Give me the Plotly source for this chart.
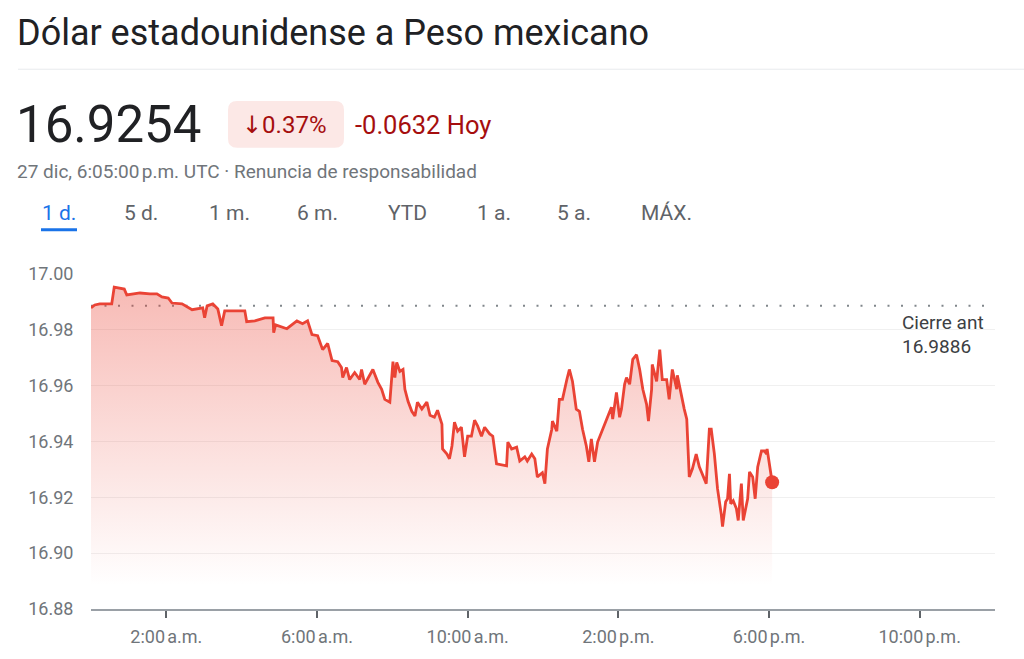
import plotly.graph_objects as go

# ---------------- data ----------------
DAY = "2023-12-27"
times = ["00:00","00:06","00:14","00:33","00:37","00:43","00:53","00:57","01:07","01:18",
         "01:34","01:45","01:53","02:03","02:09","02:25","02:41","02:58","03:01","03:05",
         "03:14","03:22","03:28","03:33","03:49","04:05","04:08","04:21","04:37","04:50",
         "04:51","04:54","05:12","05:28","05:37","05:45","05:52","06:01","06:09","06:17",
         "06:24","06:33","06:39","06:41","06:47","06:52","07:00","07:08","07:11","07:16",
         "07:29","07:37","07:43","07:48","07:56","08:01","08:04","08:07","08:12","08:17",
         "08:20","08:25","08:31","08:36","08:40","08:47","08:55","09:00","09:07","09:12",
         "09:19","09:20","09:27","09:31","09:35","09:39","09:44","09:50","09:55","10:00",
         "10:06","10:11","10:16","10:22","10:27","10:35","10:40","10:46","11:02","11:04",
         "11:10","11:18","11:23","11:31","11:35","11:42","11:47","11:51","11:59","12:03",
         "12:07","12:14","12:15","12:22","12:26","12:31","12:38","12:42","12:47","12:53",
         "12:58","13:03","13:09","13:13","13:17","13:22","13:27","13:35","13:41","13:49",
         "13:51","13:57","14:02","14:05","14:10","14:13","14:18","14:23","14:29","14:34",
         "14:39","14:45","14:48","14:53","14:54","15:01","15:06","15:10","15:17","15:21",
         "15:26","15:33","15:34","15:41","15:45","15:49","15:53","15:58","16:04","16:09",
         "16:14","16:20","16:25","16:28","16:33","16:38","16:44","16:46","16:51","16:54",
         "16:57","16:59","17:03","17:08","17:11","17:16","17:19","17:26","17:29","17:34",
         "17:38","17:42","17:48","17:53","17:56","17:57","18:05"]
prices = [16.9879,16.9889,16.9893,16.9893,16.9953,16.9950,16.9946,16.9925,16.9929,16.9932,
          16.9929,16.9929,16.9918,16.9914,16.9896,16.9893,16.9872,16.9879,16.9843,16.9886,
          16.9893,16.9875,16.9815,16.9868,16.9868,16.9868,16.9829,16.9832,16.9843,16.9843,
          16.9790,16.9818,16.9804,16.9832,16.9822,16.9832,16.9783,16.9779,16.9729,16.9751,
          16.9690,16.9686,16.9665,16.9629,16.9665,16.9622,16.9647,16.9622,16.9658,16.9605,
          16.9658,16.9612,16.9587,16.9551,16.9541,16.9686,16.9629,16.9683,16.9651,16.9658,
          16.9587,16.9544,16.9508,16.9491,16.9541,16.9516,16.9541,16.9494,16.9487,16.9512,
          16.9462,16.9373,16.9355,16.9338,16.9384,16.9469,16.9437,16.9451,16.9345,16.9419,
          16.9419,16.9476,16.9455,16.9419,16.9451,16.9427,16.9419,16.9320,16.9313,16.9398,
          16.9373,16.9380,16.9330,16.9345,16.9330,16.9355,16.9338,16.9273,16.9288,16.9249,
          16.9373,16.9444,16.9473,16.9437,16.9551,16.9551,16.9622,16.9658,16.9615,16.9516,
          16.9508,16.9444,16.9384,16.9327,16.9409,16.9327,16.9398,16.9444,16.9480,16.9523,
          16.9480,16.9576,16.9487,16.9516,16.9605,16.9629,16.9605,16.9694,16.9711,16.9658,
          16.9587,16.9533,16.9473,16.9587,16.9676,16.9615,16.9729,16.9622,16.9622,16.9551,
          16.9658,16.9587,16.9637,16.9551,16.9516,16.9480,16.9273,16.9302,16.9355,16.9309,
          16.9284,16.9249,16.9444,16.9444,16.9355,16.9231,16.9138,16.9095,16.9184,16.9195,
          16.9284,16.9177,16.9188,16.9160,16.9117,16.9249,16.9117,16.9195,16.9291,16.9273,
          16.9195,16.9309,16.9366,16.9366,16.9355,16.9373,16.9254]

prev_close = 16.9886
last_price = "16.9254"
pct_change = "0.37%"
abs_change = "-0.0632"
timestamp_text = "27 dic, 6:05:00\u202fp.m. UTC · Renuncia de responsabilidad"
title_text = "Dólar estadounidense a Peso mexicano"
tabs = ["1 d.", "5 d.", "1 m.", "6 m.", "YTD", "1 a.", "5 a.", "MÁX."]
y_ticks = [16.88, 16.90, 16.92, 16.94, 16.96, 16.98, 17.00]
x_tick_times = ["02:00", "06:00", "10:00", "14:00", "18:00", "22:00"]
x_tick_labels = ["2:00\u202fa.m.", "6:00\u202fa.m.", "10:00\u202fa.m.",
                 "2:00\u202fp.m.", "6:00\u202fp.m.", "10:00\u202fp.m."]
fill_floor = 16.889

# ---------------- layout helpers ----------------
W, H = 1024, 659
L, R, T, B = 91, 995, 274, 611
def px(x):
    return (x - L) / (R - L)
def py(y):
    return (B - y) / (B - T)

xs = [f"{DAY} {t}" for t in times]
RED = "#ea4335"
FONT = "Roboto"

fig = go.Figure()
fig.add_trace(go.Scatter(x=[xs[0], xs[-1]], y=[fill_floor, fill_floor], mode="lines",
                         line=dict(width=0), hoverinfo="skip", showlegend=False))
fig.add_trace(go.Scatter(
    x=xs, y=prices, mode="lines", line=dict(color=RED, width=2.8),
    fill="tonexty",
    fillgradient=dict(type="vertical", start=fill_floor, stop=17.0,
                      colorscale=[[0, "rgba(234,67,53,0.0)"], [1, "rgba(234,67,53,0.38)"]]),
    showlegend=False))
fig.add_trace(go.Scatter(x=[xs[-1]], y=[prices[-1]], mode="markers",
                         marker=dict(color=RED, size=14), showlegend=False))

shapes = []
# previous close dotted line
shapes.append(dict(type="line", xref="paper", yref="y", x0=0, x1=1, y0=prev_close, y1=prev_close,
                   line=dict(color="#80868b", width=2, dash="2px,11.5px"), layer="below"))
# separator under title
shapes.append(dict(type="line", xref="paper", yref="paper", x0=px(18), x1=px(1024), y0=py(68), y1=py(68),
                   line=dict(color="#e8eaed", width=1)))
# badge
bx0, bx1, by0, by1, r = 228, 344, 100, 147, 9
def P(x, y):
    return f"{px(x)},{py(y)}"
path = (f"M {P(bx0+r, by0)} L {P(bx1-r, by0)} Q {P(bx1, by0)} {P(bx1, by0+r)} "
        f"L {P(bx1, by1-r)} Q {P(bx1, by1)} {P(bx1-r, by1)} L {P(bx0+r, by1)} "
        f"Q {P(bx0, by1)} {P(bx0, by1-r)} L {P(bx0, by0+r)} Q {P(bx0, by0)} {P(bx0+r, by0)} Z")
shapes.append(dict(type="path", xref="paper", yref="paper", path=path,
                   fillcolor="#fce8e6", line=dict(width=0)))
# active tab underline
shapes.append(dict(type="rect", xref="paper", yref="paper", x0=px(41), x1=px(77), y0=py(231), y1=py(228),
                   fillcolor="#1a73e8", line=dict(width=0)))

ann = []
def text(x, y, s, size, color, anchor="left", family=FONT):
    ann.append(dict(xref="paper", yref="paper", x=px(x), y=py(y), text=s, showarrow=False,
                    xanchor=anchor, yanchor="middle", font=dict(family=family, size=size, color=color)))

text(15, 32, title_text, 36, "#202124")
text(14, 124, last_price, 51, "#202124")
text(240, 124, "<span style=\"font-family:'DejaVu Sans'\">\u2193</span>" + pct_change, 24, "#a50e0e")
text(353, 124, abs_change + " Hoy", 25.5, "#a50e0e")
text(15, 171, timestamp_text, 19, "#70757a")
tab_x = [42, 124, 209, 297, 388, 477, 557, 641]
for i, (tx, tb) in enumerate(zip(tab_x, tabs)):
    text(tx - 2, 213, tb, 21, "#1a73e8" if i == 0 else "#5f6368")
text(900, 323, "Cierre ant", 19, "#3c4043")
text(900, 347, f"{prev_close:.4f}", 19, "#3c4043")

fig.update_layout(
    width=W, height=H, margin=dict(l=L, r=W - R, t=T, b=H - B),
    paper_bgcolor="white", plot_bgcolor="white",
    shapes=shapes, annotations=ann, showlegend=False,
    xaxis=dict(type="date", range=[f"{DAY} 00:00", "2023-12-28 00:00"],
               tickvals=[f"{DAY} {t}" for t in x_tick_times], ticktext=x_tick_labels,
               showgrid=False, zeroline=False, showline=True, linecolor="#9aa0a6", linewidth=1.5,
               ticks="outside", ticklen=7, tickcolor="#5f6368", tickwidth=2,
               tickfont=dict(family=FONT, size=18, color="#70757a"), ticklabelstandoff=4),
    yaxis=dict(range=[16.88, 17.0], tickvals=y_ticks, ticktext=[f"{v:.2f}" for v in y_ticks],
               showgrid=True, gridcolor="#f0f0f0", gridwidth=1, zeroline=False, showline=False,
               ticks="outside", ticklen=0, tickfont=dict(family=FONT, size=18, color="#70757a"),
               ticklabelstandoff=13),
)
fig.write_html("out.html", config={"displayModeBar": False},
               post_script="document.body.style.margin='0px';")
